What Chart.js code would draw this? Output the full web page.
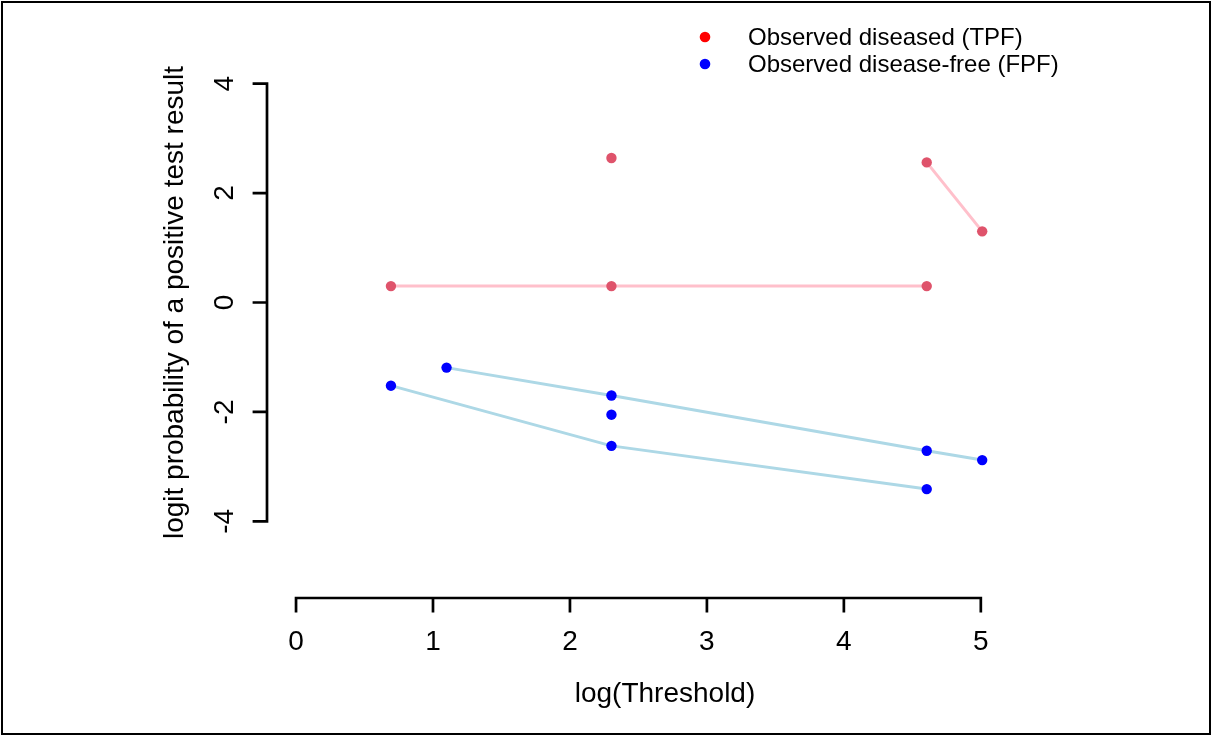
<!DOCTYPE html>
<html>
<head>
<meta charset="utf-8">
<script src="https://cdn.jsdelivr.net/npm/chart.js@4/dist/chart.umd.min.js"></script>
<style>
    html, body { margin: 0; padding: 0; background: #fff; }
    canvas { display: block; }
</style>
</head>
<body>
<canvas id="logit-chart" width="1212" height="736"></canvas>
<script>
// 观测点 - 患病组 (TPF)
const tpfX = [0.693, 2.303, 4.605, 2.303, 4.605, 5.01];
const tpfY = [0.30, 0.30, 0.30, 2.64, 2.56, 1.30];

// 观测点 - 无病组 (FPF)
const fpfX = [0.693, 1.099, 2.303, 2.303, 2.303, 4.605, 4.605, 5.01];
const fpfY = [-1.52, -1.19, -1.70, -2.05, -2.62, -2.71, -3.41, -2.88];

// 连线 (每条研究一条线)
const tpfLine1X = [0.693, 2.303, 4.605];
const tpfLine1Y = [0.30, 0.30, 0.30];
const tpfLine2X = [4.605, 5.01];
const tpfLine2Y = [2.56, 1.30];
const fpfLine1X = [0.693, 2.303, 4.605];
const fpfLine1Y = [-1.52, -2.62, -3.41];
const fpfLine2X = [1.099, 2.303, 4.605, 5.01];
const fpfLine2Y = [-1.19, -1.70, -2.71, -2.88];

// 坐标轴刻度
const xTicks = [0, 1, 2, 3, 4, 5];
const yTicks = [-4, -2, 0, 2, 4];

// 图例
const legendLabels = ['Observed diseased (TPF)', 'Observed disease-free (FPF)'];
const legendColors = ['#FF0000', '#0000FF'];

const xTitle = 'log(Threshold)';
const yTitle = 'logit probability of a positive test result';

const FONT = '"Liberation Sans", Arial, Helvetica, sans-serif';

function toPoints(xs, ys) {
    return xs.map((x, i) => ({ x: x, y: ys[i] }));
}

function lineDataset(xs, ys, color) {
    return {
        data: toPoints(xs, ys),
        showLine: true,
        borderColor: color,
        borderWidth: 3,
        pointRadius: 0,
        fill: false,
        tension: 0,
        order: 2
    };
}

function pointDataset(xs, ys, color) {
    return {
        data: toPoints(xs, ys),
        showLine: false,
        pointRadius: 5.2,
        pointBackgroundColor: color,
        pointBorderColor: color,
        pointBorderWidth: 0,
        order: 1
    };
}

// R 风格坐标轴、标题、图例、外框
const baseGraphics = {
    id: 'baseGraphics',
    afterDraw(chart) {
        const ctx = chart.ctx;
        const area = chart.chartArea;
        const xs = chart.scales.x;
        const ys = chart.scales.y;
        const tick = 14.4;

        ctx.save();
        ctx.strokeStyle = '#000';
        ctx.fillStyle = '#000';
        ctx.lineWidth = 2.7;
        ctx.lineCap = 'butt';

        // x 轴
        const xb = area.bottom;
        ctx.beginPath();
        ctx.moveTo(xs.getPixelForValue(xTicks[0]) - 1.35, xb);
        ctx.lineTo(xs.getPixelForValue(xTicks[xTicks.length - 1]) + 1.35, xb);
        xTicks.forEach(v => {
            const px = xs.getPixelForValue(v);
            ctx.moveTo(px, xb);
            ctx.lineTo(px, xb + tick);
        });
        ctx.stroke();
        ctx.font = '28px ' + FONT;
        ctx.textAlign = 'center';
        ctx.textBaseline = 'alphabetic';
        xTicks.forEach(v => {
            ctx.fillText(String(v), xs.getPixelForValue(v), 650);
        });

        // y 轴
        const yl = area.left;
        ctx.beginPath();
        ctx.moveTo(yl, ys.getPixelForValue(yTicks[0]) + 1.35);
        ctx.lineTo(yl, ys.getPixelForValue(yTicks[yTicks.length - 1]) - 1.35);
        yTicks.forEach(v => {
            const py = ys.getPixelForValue(v);
            ctx.moveTo(yl, py);
            ctx.lineTo(yl - tick, py);
        });
        ctx.stroke();
        yTicks.forEach(v => {
            ctx.save();
            ctx.translate(233, ys.getPixelForValue(v));
            ctx.rotate(-Math.PI / 2);
            ctx.fillText(String(v), 0, 0);
            ctx.restore();
        });

        // 轴标题
        ctx.font = '28px ' + FONT;
        ctx.fillText(xTitle, (area.left + area.right) / 2, 702);
        ctx.save();
        ctx.translate(183, (area.top + area.bottom) / 2);
        ctx.rotate(-Math.PI / 2);
        ctx.fillText(yTitle, 0, 0);
        ctx.restore();

        // 图例
        ctx.font = '24px ' + FONT;
        ctx.textAlign = 'left';
        ctx.textBaseline = 'middle';
        legendLabels.forEach((label, i) => {
            const ly = 37 + i * 27;
            ctx.fillStyle = legendColors[i];
            ctx.beginPath();
            ctx.arc(705, ly, 5.3, 0, Math.PI * 2);
            ctx.fill();
            ctx.fillStyle = '#000';
            ctx.fillText(label, 748, ly + 1);
        });

        // 外框
        ctx.lineWidth = 2;
        ctx.strokeRect(2, 2, 1208, 732);
        ctx.restore();
    }
};

const canvas = document.getElementById('logit-chart');

window.logitChart = new Chart(canvas, {
    type: 'scatter',
    data: {
        datasets: [
            pointDataset(tpfX, tpfY, '#DF536B'),
            pointDataset(fpfX, fpfY, '#0000FF'),
            lineDataset(tpfLine1X, tpfLine1Y, '#FFC0CB'),
            lineDataset(tpfLine2X, tpfLine2Y, '#FFC0CB'),
            lineDataset(fpfLine1X, fpfLine1Y, '#ADD8E6'),
            lineDataset(fpfLine2X, fpfLine2Y, '#ADD8E6')
        ]
    },
    options: {
        responsive: false,
        animation: false,
        events: [],
        layout: {
            padding: { left: 267, right: 149, top: 7, bottom: 138 }
        },
        scales: {
            x: { type: 'linear', display: false, min: -0.212, max: 5.6 },
            y: { type: 'linear', display: false, min: -5.4, max: 5.4 }
        },
        plugins: {
            legend: { display: false },
            tooltip: { enabled: false },
            title: { display: false }
        }
    },
    plugins: [baseGraphics]
});
</script>
</body>
</html>
